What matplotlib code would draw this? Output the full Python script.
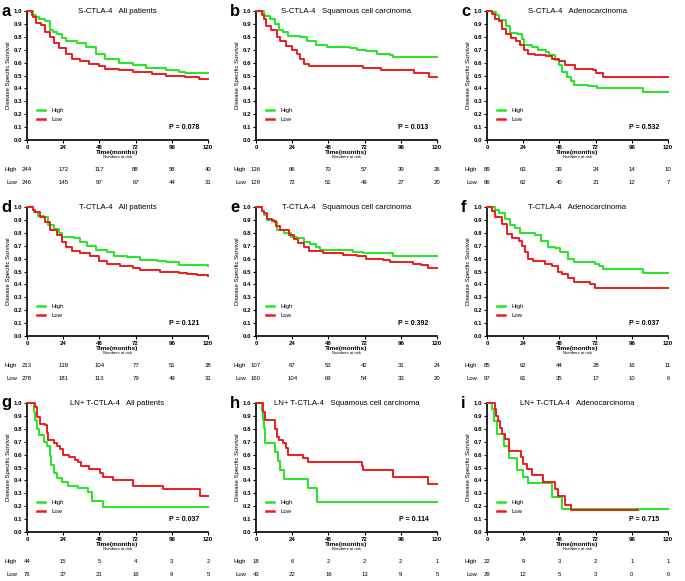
import matplotlib
matplotlib.use("Agg")
import matplotlib.pyplot as plt
from matplotlib.transforms import blended_transform_factory

plt.rcParams['font.family'] = ['Liberation Sans', 'DejaVu Sans']

# ---------------- data ----------------
LETTERS = ["a", "b", "c", "d", "e", "f", "g", "h", "i"]
TITLES = ["S-CTLA-4   All patients", "S-CTLA-4   Squamous cell carcinoma", "S-CTLA-4   Adenocarcinoma",
          "T-CTLA-4   All patients", "T-CTLA-4   Squamous cell carcinoma", "T-CTLA-4   Adenocarcinoma",
          "LN+ T-CTLA-4   All patients", "LN+ T-CTLA-4   Squamous cell carcinoma", "LN+ T-CTLA-4   Adenocarcinoma"]
P_VALUES = ["0.078", "0.013", "0.532", "0.121", "0.392", "0.037", "0.037", "0.114", "0.715"]
RISK_TIMES = [0, 24, 48, 72, 96, 120]

A_HIGH_T = [0, 4, 6, 8, 12, 15, 17, 20, 23, 26, 33, 39, 46, 52, 61, 70, 79, 90, 92, 101, 105, 120]
A_HIGH_S = [1.0, 0.97, 0.95, 0.94, 0.92, 0.85, 0.84, 0.82, 0.79, 0.77, 0.75, 0.72, 0.67, 0.63, 0.60, 0.58, 0.56, 0.555, 0.54, 0.53, 0.52, 0.52]
A_LOW_T = [0, 3, 4, 6, 9.5, 12, 15, 18, 21.5, 26, 30, 35, 41, 48, 52, 61, 70, 83, 92, 105, 114, 120]
A_LOW_S = [1.0, 0.97, 0.95, 0.91, 0.89, 0.84, 0.80, 0.75, 0.71, 0.67, 0.63, 0.61, 0.59, 0.57, 0.55, 0.545, 0.53, 0.51, 0.50, 0.49, 0.475, 0.475]

B_HIGH_T = [0, 5, 6, 9, 12.6, 15, 18, 21, 29, 33.5, 40, 47, 62, 67, 73, 80, 89, 91, 120]
B_HIGH_S = [1.0, 0.97, 0.96, 0.94, 0.90, 0.85, 0.84, 0.81, 0.80, 0.77, 0.74, 0.72, 0.71, 0.70, 0.69, 0.67, 0.66, 0.64, 0.64]
B_LOW_T = [0, 4, 5, 6.6, 10, 14, 16, 20, 23.6, 27, 29, 32, 35, 71, 83, 105, 115, 120]
B_LOW_S = [1.0, 0.97, 0.94, 0.88, 0.85, 0.80, 0.77, 0.73, 0.70, 0.67, 0.63, 0.59, 0.57, 0.56, 0.54, 0.52, 0.49, 0.49]

C_HIGH_T = [0, 3, 6, 8, 12.5, 15, 20, 23.5, 24.5, 30, 34, 39, 41, 45, 47.6, 50, 53, 56, 57.5, 67, 73, 103.5, 120]
C_HIGH_S = [1.0, 0.99, 0.97, 0.93, 0.88, 0.83, 0.82, 0.78, 0.74, 0.72, 0.70, 0.68, 0.66, 0.62, 0.58, 0.53, 0.49, 0.46, 0.43, 0.42, 0.40, 0.37, 0.37]
C_LOW_T = [0, 3, 5, 8, 10, 12.5, 16, 19, 22, 24.5, 27, 32, 39, 43, 47.5, 52, 58.5, 70.6, 72, 77, 120]
C_LOW_S = [1.0, 0.98, 0.94, 0.92, 0.86, 0.82, 0.79, 0.77, 0.74, 0.70, 0.67, 0.66, 0.65, 0.63, 0.61, 0.58, 0.55, 0.54, 0.52, 0.49, 0.49]

D_HIGH_T = [0, 4, 4.4, 7, 11, 14, 17.6, 21, 23, 31, 35, 40, 46, 53, 58, 66, 75, 86, 92, 101, 120]
D_HIGH_S = [1.0, 0.98, 0.96, 0.93, 0.92, 0.86, 0.83, 0.80, 0.77, 0.76, 0.73, 0.70, 0.67, 0.65, 0.62, 0.61, 0.59, 0.58, 0.57, 0.55, 0.545]
D_LOW_T = [0, 4, 5, 8.4, 12, 15, 20, 23, 26, 30, 35, 42, 48, 53, 61.7, 70, 75, 88, 101, 106, 113, 120]
D_LOW_S = [1.0, 0.98, 0.96, 0.92, 0.88, 0.82, 0.78, 0.73, 0.69, 0.66, 0.64, 0.62, 0.58, 0.56, 0.54, 0.53, 0.51, 0.50, 0.49, 0.48, 0.47, 0.465]

E_HIGH_T = [0, 4, 5, 7.5, 12, 14, 18.4, 23, 27, 32, 36, 40, 42.5, 64.5, 71, 91, 120]
E_HIGH_S = [1.0, 0.97, 0.94, 0.90, 0.88, 0.82, 0.80, 0.77, 0.76, 0.73, 0.71, 0.69, 0.67, 0.65, 0.64, 0.62, 0.62]
E_LOW_T = [0, 4, 5, 7.5, 10.7, 13, 16, 21.7, 25, 28, 31.6, 35, 44.7, 58, 66.7, 73, 84, 88.6, 104, 109.5, 114, 120]
E_LOW_S = [1.0, 0.97, 0.95, 0.91, 0.89, 0.85, 0.82, 0.78, 0.75, 0.72, 0.69, 0.66, 0.64, 0.63, 0.62, 0.60, 0.59, 0.57, 0.56, 0.55, 0.53, 0.53]

F_HIGH_T = [0, 5.5, 7.7, 12, 15.4, 18.7, 22, 32, 36, 40.7, 45, 48.4, 54, 58, 71.6, 74, 77, 103.5, 120]
F_HIGH_S = [1.0, 0.98, 0.95, 0.91, 0.86, 0.84, 0.80, 0.78, 0.74, 0.69, 0.68, 0.65, 0.60, 0.57, 0.56, 0.54, 0.52, 0.49, 0.49]
F_LOW_T = [0, 3.3, 5.5, 10, 13, 16.5, 21, 23, 25, 27.5, 30.8, 38.5, 43, 47, 49.5, 54, 58, 68, 71.6, 120]
F_LOW_S = [1.0, 0.97, 0.92, 0.87, 0.79, 0.76, 0.74, 0.70, 0.65, 0.60, 0.58, 0.56, 0.54, 0.50, 0.48, 0.45, 0.42, 0.40, 0.37, 0.37]

G_HIGH_T = [0, 4.4, 5, 6.6, 7.7, 11, 13, 15, 15.8, 17.6, 19.8, 23, 27, 33.7, 40.7, 43, 50.6, 120]
G_HIGH_S = [1.0, 0.93, 0.87, 0.80, 0.75, 0.70, 0.67, 0.59, 0.52, 0.46, 0.42, 0.39, 0.36, 0.34, 0.31, 0.24, 0.19, 0.19]
G_LOW_T = [0, 5, 6.6, 8.4, 11.7, 13, 14, 17.6, 20, 22, 24, 28, 31.5, 34, 36, 41, 48.4, 50.6, 57, 70.5, 90, 114.5, 120]
G_LOW_S = [1.0, 0.97, 0.89, 0.84, 0.83, 0.77, 0.71, 0.69, 0.67, 0.64, 0.60, 0.58, 0.56, 0.54, 0.51, 0.49, 0.46, 0.43, 0.40, 0.36, 0.33, 0.28, 0.28]

H_HIGH_T = [0, 3.7, 4.4, 5.5, 6.2, 12.5, 14.7, 15.9, 18.5, 34.6, 40.5, 120]
H_HIGH_S = [1.0, 0.94, 0.87, 0.81, 0.69, 0.62, 0.55, 0.48, 0.41, 0.34, 0.23, 0.23]
H_LOW_T = [0, 4.8, 6, 12.5, 13.6, 15.4, 18, 20, 21.4, 31, 34.5, 70, 71, 91, 114, 120]
H_LOW_S = [1.0, 0.93, 0.87, 0.80, 0.74, 0.71, 0.69, 0.65, 0.60, 0.57, 0.54, 0.51, 0.48, 0.43, 0.37, 0.37]

I_HIGH_T = [0, 3, 4.4, 6.6, 11, 14.3, 19.8, 24, 27.5, 43, 49.5, 120]
I_HIGH_S = [1.0, 0.95, 0.86, 0.76, 0.67, 0.57, 0.48, 0.43, 0.38, 0.27, 0.18, 0.18]
I_LOW_T = [0, 5, 6, 7, 8.4, 10, 12, 14.3, 22.7, 24, 26.4, 30, 37.4, 45, 47.3, 51.7, 56, 100]
I_LOW_S = [1.0, 0.95, 0.90, 0.86, 0.81, 0.76, 0.72, 0.63, 0.58, 0.53, 0.49, 0.44, 0.39, 0.33, 0.28, 0.21, 0.17, 0.17]

HIGH_RISK = [[244, 172, 117, 88, 58, 40], [136, 96, 70, 57, 39, 26], [89, 63, 39, 24, 14, 10],
             [213, 139, 104, 77, 51, 38], [107, 67, 53, 42, 31, 24], [85, 62, 44, 28, 16, 11],
             [44, 15, 5, 4, 3, 2], [18, 6, 2, 2, 2, 1], [22, 9, 3, 2, 1, 1]]
LOW_RISK = [[246, 145, 97, 67, 44, 31], [129, 72, 51, 49, 27, 20], [96, 62, 40, 21, 12, 7],
            [278, 181, 113, 79, 49, 31], [160, 104, 69, 54, 33, 20], [97, 61, 35, 17, 10, 6],
            [76, 37, 21, 16, 9, 5], [43, 22, 16, 13, 9, 5], [29, 12, 5, 3, 0, 0]]

HIGH_CURVES = [(A_HIGH_T, A_HIGH_S), (B_HIGH_T, B_HIGH_S), (C_HIGH_T, C_HIGH_S),
               (D_HIGH_T, D_HIGH_S), (E_HIGH_T, E_HIGH_S), (F_HIGH_T, F_HIGH_S),
               (G_HIGH_T, G_HIGH_S), (H_HIGH_T, H_HIGH_S), (I_HIGH_T, I_HIGH_S)]
LOW_CURVES = [(A_LOW_T, A_LOW_S), (B_LOW_T, B_LOW_S), (C_LOW_T, C_LOW_S),
              (D_LOW_T, D_LOW_S), (E_LOW_T, E_LOW_S), (F_LOW_T, F_LOW_S),
              (G_LOW_T, G_LOW_S), (H_LOW_T, H_LOW_S), (I_LOW_T, I_LOW_S)]

GREEN = "#22e622"
RED = "#ee1c1c"

# ---------------- layout ----------------
W, H = 685, 581
fig = plt.figure(figsize=(W / 100, H / 100), dpi=100)

lefts = [27, 256, 487]
tops = [11, 207, 403]
aw, ah = 181, 129

for k in range(9):
    r, c = divmod(k, 3)
    x0 = lefts[c]
    y0 = tops[r]
    ax = fig.add_axes([x0 / W, 1 - (y0 + ah) / H, aw / W, ah / H])
    th, sh = HIGH_CURVES[k]
    tl, sl = LOW_CURVES[k]
    ax.step(th, sh, where="post", color=GREEN, lw=1.4, clip_on=False, zorder=3)
    ax.step(tl, sl, where="post", color=RED, lw=1.4, clip_on=False, zorder=3)
    ax.set_xlim(0, 120)
    ax.set_ylim(0, 1.0)
    ax.set_xticks(RISK_TIMES)
    ax.set_yticks([i / 10 for i in range(11)])
    ax.set_yticklabels([f"{i / 10:.1f}" for i in range(11)])
    ax.tick_params(direction="out", length=2.5, width=0.8, labelsize=4.4, pad=1)
    for lab in ax.get_xticklabels() + ax.get_yticklabels():
        lab.set_fontweight("bold")
    for s in ["top", "right"]:
        ax.spines[s].set_visible(False)
    for s in ["left", "bottom"]:
        ax.spines[s].set_linewidth(1.2)
    ax.set_ylabel("Disease Specific Survival", fontsize=4.3, labelpad=2)
    ax.text(0.5, 0.995, TITLES[k], transform=ax.transAxes, ha="center", va="center", fontsize=5.6)
    # legend
    ax.plot([0.055, 0.10], [0.23, 0.23], transform=ax.transAxes, color=GREEN, lw=1.8, clip_on=False)
    ax.plot([0.055, 0.10], [0.16, 0.16], transform=ax.transAxes, color=RED, lw=1.8, clip_on=False)
    ax.text(0.138, 0.23, "High", transform=ax.transAxes, ha="left", va="center", fontsize=4.3)
    ax.text(0.138, 0.16, "Low", transform=ax.transAxes, ha="left", va="center", fontsize=4.3)
    ax.text(0.87, 0.10, "P = " + P_VALUES[k], transform=ax.transAxes, ha="center", va="center",
            fontsize=5.0, fontweight="bold")
    # x label
    ax.text(0.5, -0.098, "Time(months)", transform=ax.transAxes, ha="center", va="center",
            fontsize=4.6, fontweight="bold")
    ax.text(0.5, -0.135, "Numbers at risk", transform=ax.transAxes, ha="center", va="center", fontsize=3.0)
    # risk table
    tr = blended_transform_factory(ax.transData, ax.transAxes)
    for t, v in zip(RISK_TIMES, HIGH_RISK[k]):
        ax.text(t, -0.225, str(v), transform=tr, ha="center", va="center", fontsize=4.3)
    for t, v in zip(RISK_TIMES, LOW_RISK[k]):
        ax.text(t, -0.333, str(v), transform=tr, ha="center", va="center", fontsize=4.3)
    ax.text(-0.055, -0.225, "High", transform=ax.transAxes, ha="right", va="center", fontsize=4.3)
    ax.text(-0.055, -0.333, "Low", transform=ax.transAxes, ha="right", va="center", fontsize=4.3)
    # panel letter
    fig.text((x0 - 26) / W, 1 - (y0 + 0) / H, LETTERS[k], ha="left", va="center",
             fontsize=12, fontweight="bold")

fig.savefig("out.png", dpi=100)
